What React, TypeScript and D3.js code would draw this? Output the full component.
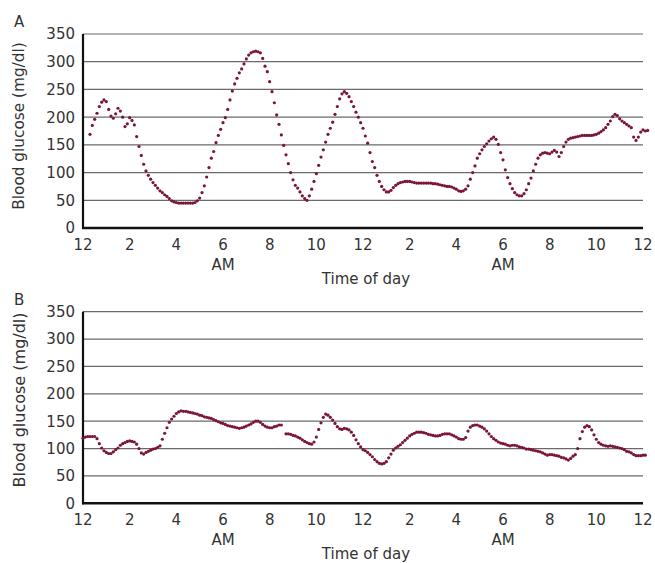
import * as d3 from "d3";

// readings every 6 minutes (0.1 h); panel A starts 00:18, panel B at midnight
const stepHours = 0.1;
const startA = 0.3;
const startB = 0.0;

const glucoseA: (number | null)[] = [
  169, 185, 196, 207, 219, 227, 231,
  228, 214, 202, 198, 206, 216, 211, 200, 183, 188,
  199, 194, 186, 165, 147, 131, 115, 103, 95, 88,
  82, 77, 72, 67, 64, 60, 57, 53, 49, 47,
  46, 45, 45, 45, 45, 45, 45, 45, 46, 49,
  54, 64, 76, 92, 109, 126, 138, 154, 167, 178,
  190, 199, 214, 231, 247, 260, 270, 280, 287, 296,
  305, 312, 316, 318, 319, 318, 316, 306, 292, 282,
  264, 246, 226, 204, 187, 168, 149, 132, 116, 100,
  87, 77, 72, 65, 58, 53, 50, 58, 70, 84,
  98, 113, 128, 141, 155, 169, 180, 191, 205, 219,
  233, 242, 246, 243, 237, 228, 219, 209, 200, 190,
  180, 166, 153, 136, 120, 109, 95, 84, 75, 69,
  65, 65, 68, 73, 77, 80, 82, 83, 84, 84,
  84, 83, 82, 81, 81, 81, 81, 81, 81, 81,
  80, 80, 79, 78, 77, 76, 75, 75, 74, 72,
  70, 67, 66, 67, 70, 76, 88, 100, 112, 126,
  134, 141, 147, 152, 157, 161, 164, 160, 151, 136,
  123, 105, 91, 80, 71, 64, 60, 58, 58, 62,
  69, 80, 90, 103, 115, 126, 132, 135, 136, 135,
  134, 137, 140, 137, 129, 136, 147, 155, 160, 162,
  163, 164, 165, 166, 167, 167, 167, 167, 167, 168,
  169, 171, 174, 177, 181, 187, 193, 201, 205, 203,
  197, 193, 190, 187, 184, 181, 164, 158, 164, 173,
  177, 175, 176,
];

const glucoseB: (number | null)[] = [
  119, 121, 122, 122, 122, 122, 118, 109, 101, 96,
  93, 91, 91, 94, 98, 101, 106, 109, 111, 113,
  114, 113, 112, 108, 100, 92, 90, 93, 95, 97,
  99, 100, 102, 105, 117, 128, 138, 148, 154, 159,
  164, 167, 169, 168, 168, 167, 166, 165, 164, 163,
  161, 160, 158, 157, 156, 155, 153, 151, 149, 147,
  146, 144, 142, 141, 140, 139, 138, 137, 138, 139,
  141, 143, 145, 148, 150, 150, 148, 144, 141, 139,
  138, 138, 140, 141, 143, 143, null, 127, 127, 126,
  124, 123, 121, 119, 116, 113, 111, 109, 108, 112,
  121, 135, 147, 157, 163, 161, 157, 152, 146, 140,
  136, 135, 137, 136, 134, 130, 124, 116, 109, 103,
  98, 96, 93, 89, 85, 80, 76, 73, 72, 73,
  76, 83, 90, 97, 101, 104, 107, 111, 115, 119,
  123, 126, 128, 130, 130, 130, 129, 128, 126, 125,
  124, 123, 123, 124, 126, 127, 127, 127, 125, 123,
  121, 118, 117, 117, 120, 132, 139, 142, 143, 143,
  141, 139, 136, 132, 127, 122, 118, 115, 112, 110,
  109, 108, 106, 105, 106, 106, 105, 103, 102, 101,
  99, 99, 98, 97, 96, 95, 94, 92, 90, 88,
  89, 89, 88, 87, 86, 84, 83, 81, 79, 82,
  86, 89, 100, 118, 131, 139, 142, 140, 134, 125,
  117, 111, 108, 106, 105, 104, 105, 104, 103, 102,
  101, 100, 98, 95, 94, 92, 89, 87, 87, 87,
  88, 88,
];

const xTickHours = [0, 2, 4, 6, 8, 10, 12, 14, 16, 18, 20, 22, 24];
const xTickLabels = ["12", "2", "4", "6", "8", "10", "12", "2", "4", "6", "8", "10", "12"];
const amHours = [6, 18];
const yTicks = [0, 50, 100, 150, 200, 250, 300, 350];

const dotColor = "#7b1538";
const textColor = "#333";
const font = "DejaVu Sans, sans-serif";

type PanelProps = {
  letter: string;
  values: (number | null)[];
  start: number;
  top: number;
  bottom: number;
  ylabelSize: number;
  ylabelY: number;
};

const Panel = ({ letter, values, start, top, bottom, ylabelSize, ylabelY }: PanelProps) => {
  const x = d3.scaleLinear().domain([0, 24]).range([83, 643]);
  const y = d3.scaleLinear().domain([0, 350]).range([bottom, top]);

  const pts = values
    .map((v, i) => ({ h: start + i * stepHours, v }))
    .filter((d) => d.v !== null) as { h: number; v: number }[];

  return (
    <g fontFamily={font} fill={textColor}>
      <text x={14} y={top - 7} fontSize={15}>
        {letter}
      </text>
      <text
        transform={`translate(19,${ylabelY}) rotate(-90)`}
        textAnchor="middle"
        dominantBaseline="central"
        fontSize={ylabelSize}
      >
        Blood glucose (mg/dl)
      </text>

      {/* grid */}
      {yTicks
        .filter((t) => t > 0)
        .map((t) => (
          <line key={t} x1={83} x2={643} y1={y(t)} y2={y(t)} stroke="#6a6a6a" strokeWidth={1.2} />
        ))}
      {yTicks.map((t) => (
        <text key={"yl" + t} x={75} y={y(t)} dy="0.36em" textAnchor="end" fontSize={15}>
          {t}
        </text>
      ))}

      {/* axes */}
      <line x1={83} x2={83} y1={top} y2={bottom + 1} stroke="#111" strokeWidth={2.2} />
      <line x1={82} x2={643} y1={bottom} y2={bottom} stroke="#111" strokeWidth={2.6} />

      {xTickHours.map((h, i) => (
        <text key={"xl" + i} x={x(h)} y={bottom + 22} textAnchor="middle" fontSize={15}>
          {xTickLabels[i]}
        </text>
      ))}
      {amHours.map((h) => (
        <text key={"am" + h} x={x(h)} y={bottom + 42} textAnchor="middle" fontSize={15}>
          AM
        </text>
      ))}
      <text x={366} y={bottom + 56} textAnchor="middle" fontSize={15}>
        Time of day
      </text>

      {pts.map((d, i) => (
        <circle key={"p" + i} cx={x(d.h)} cy={y(d.v)} r={1.6} fill={dotColor} />
      ))}
    </g>
  );
};

export default function App() {
  return (
    <div style={{ position: "absolute", left: 0, top: 0 }}>
      <svg width={655} height={563} style={{ display: "block", background: "#fff" }}>
        <Panel letter="A" values={glucoseA} start={startA} top={34} bottom={228} ylabelSize={15.3} ylabelY={126} />
        <Panel letter="B" values={glucoseB} start={startB} top={311.7} bottom={503.3} ylabelSize={16} ylabelY={400} />
      </svg>
    </div>
  );
}
